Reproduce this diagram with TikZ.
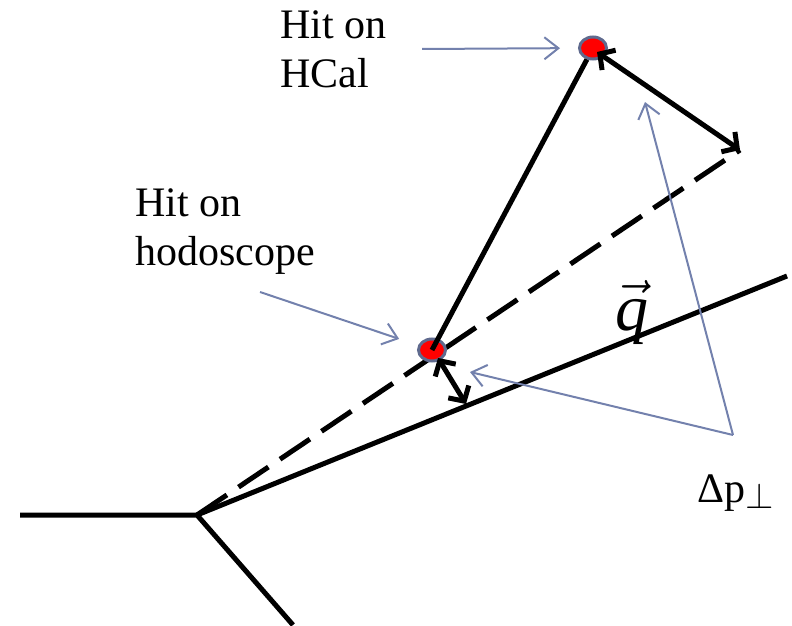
\documentclass[tikz,border=0pt]{standalone}
\usepackage{fix-cm}
\usepackage{amsmath}
\usepackage{graphicx}
\usepackage{fontspec}
\setmainfont{Liberation Serif}
\newfontfamily\notefont{Liberation Serif}
\usetikzlibrary{arrows.meta,shapes.geometric}
\definecolor{pointerblue}{HTML}{7381AD}
\definecolor{hitrim}{HTML}{5F6A8E}
\definecolor{hitred}{HTML}{FF0000}

\begin{document}
\begin{tikzpicture}[x=1pt,y=-1pt,
  track/.style={line width=5pt,black},
  hit/.style={ellipse,draw=hitrim,fill=hitred,line width=3pt,minimum width=27pt,minimum height=22pt,inner sep=0pt},
  pointsto/.style={line width=2pt,pointerblue,-{Straight Barb[length=14pt,width=22pt]}},
  kick/.style={line width=5pt,{Straight Barb[length=11pt,width=24pt]}-{Straight Barb[length=11pt,width=24pt]}},
  note/.style={font=\notefont\fontsize{42}{49}\selectfont,inner sep=0pt,align=left}]
  \useasboundingbox (0,0) rectangle (792,626);

  % tracks from the vertex
  \coordinate (vtx) at (197,515);
  \coordinate (beamin) at (20,515);
  \coordinate (lowend) at (293,625);
  \coordinate (qend) at (787,276);
  \coordinate (dend) at (740,150);
  \draw[track] (beamin) -- (vtx) -- (lowend);
  \draw[track] (vtx) -- (qend);
  \draw[track,dash pattern=on 36pt off 14pt] (vtx) -- (dend);

  % hits
  \node[hit] (hod) at (432,350) {};
  \node[hit] (hcal) at (593,48) {};
  \draw[track] (hod.center) -- (hcal);

  % transverse kicks
  \coordinate (hodkick) at (438,358);
  \coordinate (hodfoot) at (466,404);
  \coordinate (calkick) at (597,52);
  \draw[kick] (hodkick) -- (hodfoot);
  \draw[kick] (calkick) -- (dend);

  % labels
  \node[note,anchor=north west] (callabel) at (280,10) {Hit on\\HCal};
  \node[note,anchor=north west] (hodlabel) at (135,188) {Hit on\\hodoscope};
  \node[font=\notefont\fontsize{66}{70}\selectfont,inner sep=0pt,anchor=base] (qlabel) at (632,330) {$\vec{\textit{q}}$};
  \node[note,anchor=base west] (dplabel) at (697,502) {Δp\raisebox{-6pt}{\scalebox{1.3}{\fontsize{28}{28}\selectfont$\perp$}}};

  % pointers
  \coordinate (calTail) at (422,49);
  \coordinate (hodTail) at (260,292);
  \coordinate (dpTail) at (733,435);
  \coordinate (dpTipA) at (470,372);
  \coordinate (dpTipB) at (645,102);
  \draw[pointsto,shorten >=18pt] (calTail) -- (hcal);
  \draw[pointsto,shorten >=20pt] (hodTail) -- (hod);
  \draw[pointsto] (dpTail) -- (dpTipA);
  \draw[pointsto] (dpTail) -- (dpTipB);
\end{tikzpicture}
\end{document}
